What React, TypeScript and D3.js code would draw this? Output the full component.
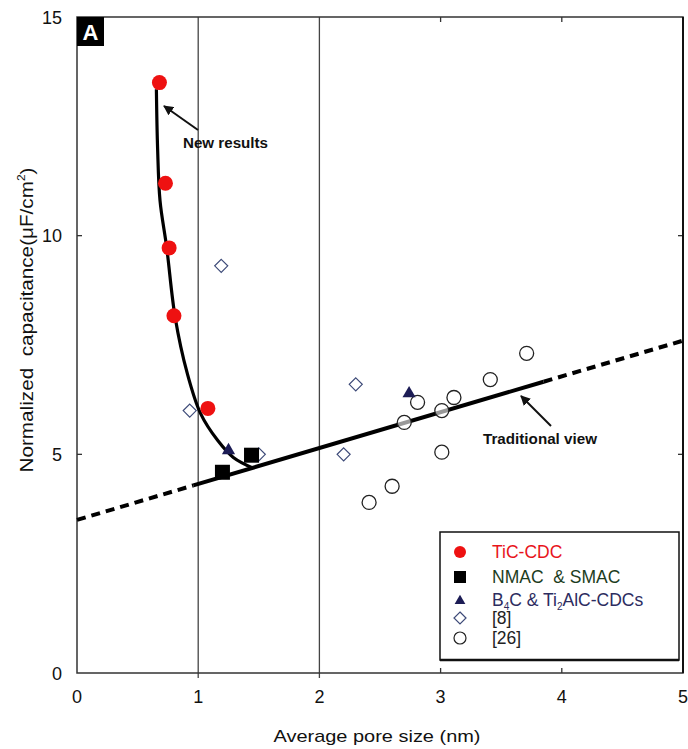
import React from "react";
import * as d3 from "d3";

// ---- Data ----
const ticCdc: [number, number][] = [
  [0.68, 13.5], [0.73, 11.2], [0.76, 9.72], [0.8, 8.17], [1.08, 6.05],
];
const nmacSmac: [number, number][] = [[1.2, 4.59], [1.44, 4.98]];
const b4cTi2alc: [number, number][] = [[1.25, 5.09], [2.74, 6.39]];
const ref8: [number, number][] = [
  [1.19, 9.31], [0.93, 6.0], [1.5, 5.0], [2.3, 6.6], [2.2, 5.0],
];
const ref26: [number, number][] = [
  [3.71, 7.31], [3.41, 6.71], [3.11, 6.3], [3.01, 6.0], [2.81, 6.19],
  [2.7, 5.73], [3.01, 5.05], [2.6, 4.27], [2.41, 3.9],
];
const fitCurve: [number, number][] = [
  [0.655, 13.35], [0.665, 12.0], [0.685, 10.8], [0.74, 9.73], [0.81, 8.13],
  [0.91, 6.85], [1.02, 5.93], [1.16, 5.32], [1.29, 4.93], [1.45, 4.69],
];
const tradSolid: [number, number][] = [[0.96, 4.29], [3.85, 6.66]];
const tradDashLeft: [number, number][] = [[0, 3.5], [0.96, 4.29]];
const tradDashRight: [number, number][] = [[3.85, 6.66], [5, 7.6]];
const xTicks = [0, 1, 2, 3, 4, 5];
const yTicks = [0, 5, 10, 15];
const gridX = [1, 2];
const minorX = [3, 4];
const minorY = [5, 10];

const W = 688, H = 749;
const left = 77, right = 683, top = 17, bottom = 673;

export default function App() {
  const x = d3.scaleLinear().domain([0, 5]).range([left, right]);
  const y = d3.scaleLinear().domain([0, 15]).range([bottom, top]);
  const line = d3.line<[number, number]>().x((d) => x(d[0])).y((d) => y(d[1]));
  const curve = d3
    .line<[number, number]>()
    .x((d) => x(d[0]))
    .y((d) => y(d[1]))
    .curve(d3.curveCatmullRom.alpha(0.5));
  const tri = d3.symbol().type(d3.symbolTriangle).size(75)() as string;
  const font = "'Liberation Sans', Arial, Helvetica, sans-serif";

  return (
    <svg
      width={W}
      height={H}
      style={{ position: "absolute", left: 0, top: 0, background: "#fff" }}
      fontFamily={font}
    >
      <defs>
        <marker id="ah" viewBox="0 0 10 10" refX="9" refY="5" markerWidth="5" markerHeight="5" orient="auto">
          <path d="M0,0 L10,5 L0,10 z" fill="#111" />
        </marker>
      </defs>
      {/* grid lines */}
      {gridX.map((g) => (
        <g key={g}>
          <line x1={x(g)} x2={x(g)} y1={top} y2={bottom} stroke="#444" strokeWidth={1.3} />
          <line x1={x(g)} x2={x(g)} y1={bottom} y2={bottom + 5} stroke="#444" strokeWidth={1.3} />
        </g>
      ))}
      {/* minor ticks */}
      {minorX.map((t) => (
        <g key={t}>
          <line x1={x(t)} x2={x(t)} y1={bottom} y2={bottom - 5} stroke="#333" strokeWidth={1.3} />
          <line x1={x(t)} x2={x(t)} y1={top} y2={top + 5} stroke="#333" strokeWidth={1.3} />
        </g>
      ))}
      {minorY.map((t) => (
        <g key={t}>
          <line x1={left} x2={left + 5} y1={y(t)} y2={y(t)} stroke="#333" strokeWidth={1.3} />
          <line x1={right} x2={right - 5} y1={y(t)} y2={y(t)} stroke="#333" strokeWidth={1.3} />
        </g>
      ))}
      {/* frame */}
      <rect x={left} y={top} width={right - left} height={bottom - top} fill="none" stroke="#333" strokeWidth={1.5} />
      <line x1={right} x2={right} y1={top} y2={bottom} stroke="#111" strokeWidth={2} />

      {/* A label */}
      <rect x={left} y={top} width={27} height={29} fill="#000" />
      <text x={left + 13.5} y={top + 23} textAnchor="middle" fill="#fff" fontSize={22} fontWeight="bold">A</text>

      {/* traditional line */}
      <path d={line(tradDashLeft)!} stroke="#000" strokeWidth={4} fill="none" strokeDasharray="9,6" />
      <path d={line(tradDashRight)!} stroke="#000" strokeWidth={4} fill="none" strokeDasharray="9,6" />
      <path d={line(tradSolid)!} stroke="#000" strokeWidth={4} fill="none" />
      {/* fit curve */}
      <path d={curve(fitCurve)!} stroke="#000" strokeWidth={3.2} fill="none" />

      {/* ref8 diamonds */}
      {ref8.map((d, i) => (
        <path
          key={i}
          transform={`translate(${x(d[0])},${y(d[1])})`}
          d="M0,-6.5 L6.5,0 L0,6.5 L-6.5,0 Z"
          fill="#fff"
          stroke="#3d4a78"
          strokeWidth={1.2}
        />
      ))}
      {/* ref26 circles */}
      {ref26.map((d, i) => (
        <circle key={i} cx={x(d[0])} cy={y(d[1])} r={7} fill="#fff" fillOpacity={0.6} stroke="#222" strokeWidth={1.3} />
      ))}
      {/* B4C triangles */}
      {b4cTi2alc.map((d, i) => (
        <path key={i} transform={`translate(${x(d[0])},${y(d[1])})`} d={tri} fill="#1c1c55" />
      ))}
      {/* squares */}
      {nmacSmac.map((d, i) => (
        <rect key={i} x={x(d[0]) - 7.5} y={y(d[1]) - 7.5} width={15} height={15} fill="#000" />
      ))}
      {/* TiC-CDC */}
      {ticCdc.map((d, i) => (
        <circle key={i} cx={x(d[0])} cy={y(d[1])} r={7.5} fill="#ee1111" />
      ))}

      {/* annotations */}
      <line x1={198} y1={130} x2={164} y2={106} stroke="#111" strokeWidth={2} markerEnd="url(#ah)" />
      <text x={183} y={148} fontSize={14} fontWeight="bold" fill="#111" textLength={85} lengthAdjust="spacingAndGlyphs">New results</text>
      <line x1={551} y1={426} x2={521} y2={396} stroke="#111" strokeWidth={2} markerEnd="url(#ah)" />
      <text x={483} y={444} fontSize={14} fontWeight="bold" fill="#111" textLength={114} lengthAdjust="spacingAndGlyphs">Traditional view</text>

      {/* legend */}
      <rect x={440} y={532} width={239} height={128} fill="#fff" stroke="#111" strokeWidth={1.5} />
      <line x1={440} x2={679} y1={660} y2={660} stroke="#111" strokeWidth={2.5} />
      <circle cx={460} cy={552} r={6} fill="#ee1111" />
      <text x={492} y={558} fontSize={17.5} fill="#e8141b">TiC-CDC</text>
      <rect x={454} y={571} width={12} height={12} fill="#000" />
      <text x={492} y={583} fontSize={17.5} fill="#1d3d1d">{"NMAC\u00a0\u00a0& SMAC"}</text>
      <path transform="translate(460,601)" d={d3.symbol().type(d3.symbolTriangle).size(50)()!} fill="#1c1c55" />
      <text x={492} y={606} fontSize={17.5} fill="#2c2c60">
        B<tspan fontSize={10} dy={4}>4</tspan><tspan dy={-4}>C &amp; Ti</tspan><tspan fontSize={10} dy={4}>2</tspan><tspan dy={-4}>AlC-CDCs</tspan>
      </text>
      <path transform="translate(460,618)" d="M0,-6 L6,0 L0,6 L-6,0 Z" fill="#fff" stroke="#3d4a78" strokeWidth={1.2} />
      <text x={492} y={624} fontSize={17.5} fill="#222">[8]</text>
      <circle cx={460} cy={638} r={6} fill="#fff" stroke="#222" strokeWidth={1.2} />
      <text x={492} y={644} fontSize={17.5} fill="#222">[26]</text>

      {/* tick labels */}
      {xTicks.map((t) => (
        <text key={t} x={x(t)} y={703} textAnchor="middle" fontSize={18} fill="#111">{t}</text>
      ))}
      {yTicks.map((t) => (
        <text key={t} x={62} y={y(t) + 6.5} textAnchor="end" fontSize={18} fill="#111">{t}</text>
      ))}
      {/* axis titles */}
      <text x={377} y={742} textAnchor="middle" fontSize={17} fill="#111" textLength={207} lengthAdjust="spacingAndGlyphs">Average pore size (nm)</text>
      <text transform="translate(33,320) rotate(-90)" textAnchor="middle" fontSize={19} fill="#111" textLength={305} lengthAdjust="spacingAndGlyphs">
        {"Normalized\u00a0\u00a0capacitance(μF/cm"}<tspan fontSize={11} dy={-8}>2</tspan><tspan dy={8}>)</tspan>
      </text>
    </svg>
  );
}
